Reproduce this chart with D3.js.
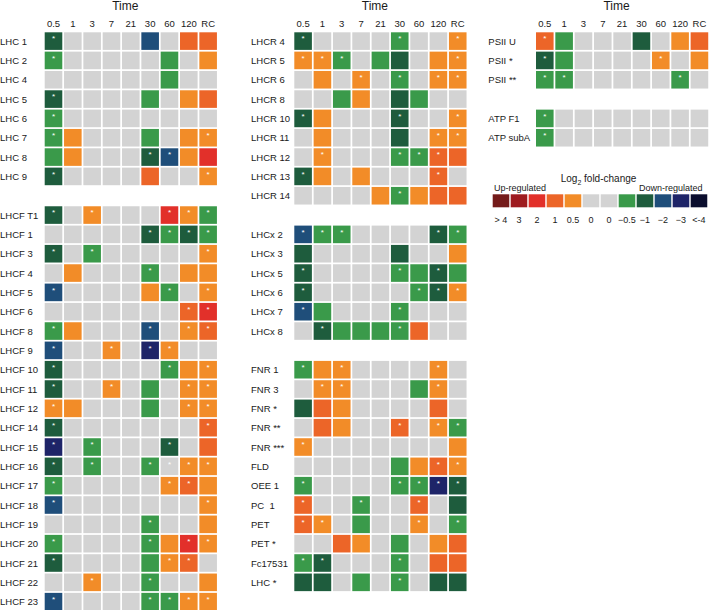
<!DOCTYPE html>
<html><head><meta charset="utf-8">
<script src="https://cdn.jsdelivr.net/npm/d3@7"></script>
<style>body{margin:0;background:#fff}svg{display:block;font-family:"Liberation Sans",Arial,sans-serif}text{white-space:pre}</style>
</head><body><svg id="chart" width="709" height="610"></svg>
<script>
// ---- data ----
const timepoints = ["0.5","1","3","7","21","30","60","120","RC"];

const lhcGenes = ["LHC 1","LHC 2","LHC 4","LHC 5","LHC 6","LHC 7","LHC 8","LHC 9"];
const lhcValues = [
 [-1,0,0,0,0,-2,0,1,1],
 [-0.5,0,0,0,0,0,-0.5,0,0.5],
 [0,0,0,0,0,0,-0.5,0,0],
 [-1,0,0,0,0,-0.5,0,0.5,1],
 [-0.5,0,0,0,0,0,0,0,0],
 [-0.5,0.5,0,0,0,-0.5,0,0.5,0.5],
 [-0.5,0.5,0,0,0,-1,-2,0.5,2],
 [-1,0,0,0,0,1,0,0,0.5]];
const lhcStars = ["100000000","100000000","000000000","100000000","100000000","100000001","000001100","100000001"];

const lhcfGenes = ["LHCF T1","LHCF 1","LHCF 3","LHCF 4","LHCF 5","LHCF 6","LHCF 8","LHCF 9","LHCF 10","LHCF 11","LHCF 12","LHCF 14","LHCF 15","LHCF 16","LHCF 17","LHCF 18","LHCF 19","LHCF 20","LHCF 21","LHCF 22","LHCF 23"];
const lhcfValues = [
 [-1,0,0.5,0,0,0,2,0.5,-0.5],
 [0,0,0,0,0,-1,-0.5,-1,-0.5],
 [-1,0,-0.5,0,0,0,0,0,0.5],
 [0,0.5,0,0,0,-0.5,0,0.5,0.5],
 [-2,0,0,0,0,0.5,-0.5,0,0.5],
 [0,0,0,0,0,0,0,1,2],
 [-0.5,0.5,0,0,0,-2,0,0.5,1],
 [-2,0,0,0.5,0,-3,0.5,0,0],
 [-1,0,0,0,0,0,-0.5,0.5,0.5],
 [-1,0,0,0.5,0,-0.5,0,0.5,0.5],
 [0.5,0.5,0,0,0,-0.5,0,0.5,0.5],
 [-1,0,0,0,0,0,0,0,1],
 [-3,0,-0.5,0,0,0,-1,0,1],
 [-1,0,-0.5,0,0,-0.5,0,0.5,0.5],
 [-0.5,0,0,0,0,0,0.5,1,0.5],
 [-2,0,0,0,0,0,0,0,0.5],
 [0,0,0,0,0,-0.5,0,0,0.5],
 [-0.5,0,0,0,0,-0.5,0.5,2,0.5],
 [-1,0,0,0,0,-0.5,0.5,1,0],
 [0,0,0.5,0,0,-0.5,0,0,0.5],
 [-2,0,0,0,0,-0.5,-0.5,0.5,0.5]];
const lhcfStars = ["101000111","000001111","101000001","000001000","100000101","000000011","100001011","100101100","100000101","100100011","100000011","100000001","101000100","101001111","100000110","100000001","000001000","100001011","100000110","001001000","100001111"];

const lhcrGenes = ["LHCR 4","LHCR 5","LHCR 6","LHCR 8","LHCR 10","LHCR 11","LHCR 12","LHCR 13","LHCR 14"];
const lhcrValues = [
 [-1,0,0,0,0,-0.5,0,0,0.5],
 [0.5,0.5,-0.5,0,-0.5,-1,0,0.5,0.5],
 [0,0.5,0,0.5,0,-0.5,0,0.5,0.5],
 [0,0,-0.5,0.5,0,-1,-0.5,0,0],
 [-1,0.5,0,0,0,-1,0,0,0.5],
 [0,0.5,0,0,0,-1,0,0.5,0.5],
 [0,0.5,0,0,0,-0.5,-0.5,1,1],
 [-1,0.5,0,0.5,0,0,0,1,0],
 [0,0,0,0,0.5,-0.5,0.5,1,1]];
const lhcrStars = ["100001001","111000001","000101011","000000000","100001001","000000011","010001110","100000010","000001000"];

const lhcxGenes = ["LHCx 2","LHCx 3","LHCx 5","LHCx 6","LHCx 7","LHCx 8"];
const lhcxValues = [
 [-2,-0.5,-0.5,0,0,0,0,-1,-0.5],
 [-1,0,0,0,0,-1,0,0,0.5],
 [-1,0,0,0,0,-0.5,-0.5,-1,-0.5],
 [-1,0,0,0,0,0,-0.5,-1,0.5],
 [-2,-0.5,0,0,0,-0.5,0,0,0],
 [0,-1,-0.5,-0.5,-0.5,-0.5,1,0,0]];
const lhcxStars = ["111000011","000000000","100001010","100000111","100001000","010001000"];

const etGenes = ["FNR 1","FNR 3","FNR *","FNR **","FNR ***","FLD","OEE 1","PC  1","PET","PET *","Fc17531","LHC *"];
const etValues = [
 [-0.5,0.5,0.5,0,0,0,0,0.5,0],
 [0,0.5,0.5,0,0,0,-0.5,0.5,0],
 [-1,1,0.5,0,0,0,0,1,0],
 [0,1,0.5,0,0,1,0,0.5,-0.5],
 [0.5,0,0,0,0,0,0,0,0.5],
 [0,0,0,0,0,-0.5,0.5,1,0.5],
 [-0.5,0,0,0,0,-0.5,-0.5,-3,-1],
 [1,0,0,-0.5,0,0,1,0,-1],
 [1,0.5,0,-0.5,0,0,0.5,0,-0.5],
 [0,0,1,0.5,0,-0.5,0,0.5,1],
 [-0.5,-1,0,0,0,-0.5,0,1,1],
 [-1,-1,0,-0.5,0,-0.5,0,-1,-1]];
const etStars = ["101000010","011000010","000000000","000001011","100000000","000000011","100001111","100100100","110000101","000000000","110001000","000001000"];

const psiiGenes = ["PSII U","PSII *","PSII **"];
const psiiValues = [
 [1,-0.5,0,0,0,-1,0,0.5,1],
 [-1,-0.5,0,0,0,0,0.5,0,0.5],
 [-0.5,-0.5,0,0,0,0,0,-0.5,0]];
const psiiStars = ["100000000","100000100","110000010"];

const atpGenes = ["ATP F1","ATP subA"];
const atpValues = [
 [-0.5,0,0,0,0,0,0,0,0],
 [-0.5,0,0,0,0,0,0,0,0]];
const atpStars = ["100000000","100000000"];

const legendLevels = [4,3,2,1,0.5,0,0,-0.5,-1,-2,-3,-4];
const legendLabels = ["> 4","3","2","1","0.5","0","0","\u22120.5","\u22121","\u22122","\u22123","<-4"];
const levelColors = ["#741b1a","#9e1b1f","#e2302a","#ec6528","#f28c28","#d3d3d3","#d3d3d3","#3a9a4a","#1e5c3d","#1f4e7a","#1e2468","#0b0e2e"];

// ---- drawing ----
const svg = d3.select("#chart");
const color = d3.scaleOrdinal().domain([4,3,2,1,0.5,0,-0.5,-1,-2,-3,-4])
  .range(["#741b1a","#9e1b1f","#e2302a","#ec6528","#f28c28","#d3d3d3","#3a9a4a","#1e5c3d","#1f4e7a","#1e2468","#0b0e2e"]);

const step = 19.33, pad = 0.09, top0 = 32.3;
const y = d3.scaleBand().domain(d3.range(31)).range([top0, top0 + step*(31-pad)]).paddingInner(pad).paddingOuter(0);

const columns = [
  {gx:44.7, lx:0, groups:[{g:lhcGenes,v:lhcValues,s:lhcStars,start:0},{g:lhcfGenes,v:lhcfValues,s:lhcfStars,start:9}]},
  {gx:294.3, lx:251, groups:[{g:lhcrGenes,v:lhcrValues,s:lhcrStars,start:0},{g:lhcxGenes,v:lhcxValues,s:lhcxStars,start:10},{g:etGenes,v:etValues,s:etStars,start:17}]},
  {gx:536, lx:488.3, groups:[{g:psiiGenes,v:psiiValues,s:psiiStars,start:0},{g:atpGenes,v:atpValues,s:atpStars,start:4}]}
];

columns.forEach(col => {
  const x = d3.scaleBand().domain(timepoints).range([col.gx, col.gx + step*(9-pad)]).paddingInner(pad).paddingOuter(0);
  const g = svg.append("g");
  g.append("text").attr("x", col.gx + step*(9-pad)/2 - 5.5).attr("y", 10)
    .attr("text-anchor","middle").attr("font-size",12).attr("fill","#1a1a1a").text("Time");
  g.selectAll("text.tick").data(timepoints).join("text").attr("class","tick")
    .attr("x", d => x(d) + x.bandwidth()/2).attr("y", 27.3)
    .attr("text-anchor","middle").attr("font-size",9.5).attr("fill","#1a1a1a").text(d => d);
  col.groups.forEach(gr => {
    gr.g.forEach((name, i) => {
      const row = gr.start + i;
      const yy = y(row);
      g.append("text").attr("x", col.lx).attr("y", yy + y.bandwidth()/2 + 3.6)
        .attr("font-size",9.5).attr("fill","#1a1a1a").text(name);
      const cells = timepoints.map((t, j) => ({t, v: gr.v[i][j], s: gr.s[i][j] === "1"}));
      g.selectAll(null).data(cells).join("rect")
        .attr("x", d => x(d.t)).attr("y", yy)
        .attr("width", x.bandwidth()).attr("height", y.bandwidth())
        .attr("fill", d => color(d.v));
      g.selectAll(null).data(cells.filter(d => d.s)).join("text")
        .attr("x", d => x(d.t) + x.bandwidth()/2).attr("y", yy + 9)
        .attr("text-anchor","middle").attr("font-size",8).attr("fill","#fff").text("*");
    });
  });
});

// legend
const lg = svg.append("g");
const lx = d3.scaleBand().domain(d3.range(legendLevels.length)).range([492.7, 492.7 + 18*(12-0.08)]).paddingInner(0.08);
lg.append("text").attr("x", 560.7).attr("y", 182.3).attr("font-size",10).attr("fill","#1a1a1a")
  .call(t => { t.append("tspan").text("Log"); t.append("tspan").attr("font-size",7).attr("dy",2.5).text("2");
               t.append("tspan").attr("dy",-2.5).text(" fold-change"); });
lg.append("text").attr("x", 494).attr("y", 191).attr("font-size",9).attr("fill","#1a1a1a").text("Up-regulated");
lg.append("text").attr("x", 702.5).attr("y", 191).attr("text-anchor","end").attr("font-size",9).attr("fill","#1a1a1a").text("Down-regulated");
lg.selectAll("rect").data(legendLevels).join("rect")
  .attr("x", (d,i) => lx(i)).attr("y", 194.3).attr("width", lx.bandwidth()).attr("height", 13)
  .attr("fill", (d,i) => levelColors[i]);
lg.selectAll("text.ll").data(legendLabels).join("text").attr("class","ll")
  .attr("x", (d,i) => lx(i) + lx.bandwidth()/2).attr("y", 222.5)
  .attr("text-anchor","middle").attr("font-size",9).attr("fill","#1a1a1a").text(d => d);
</script></body></html>
